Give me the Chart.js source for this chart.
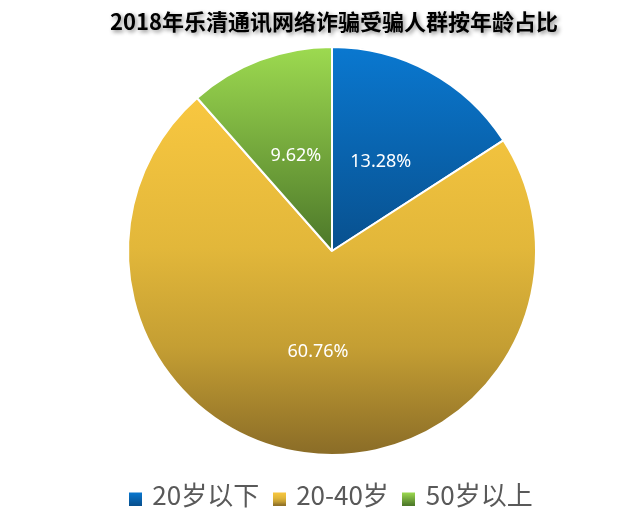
<!DOCTYPE html>
<html><head><meta charset="utf-8">
<script src="https://cdn.jsdelivr.net/npm/chart.js@4"></script>
<style>html,body{margin:0;padding:0;background:#fff}#wrap{width:625px;height:521px;position:relative}</style>
</head><body><div id="wrap"><canvas id="c"></canvas></div>
<script>
const titleText = '2018年乐清通讯网络诈骗受骗人群按年龄占比';
const categories = ['20岁以下', '20-40岁', '50岁以上'];
const values = [13.28, 60.76, 9.62];

// styles (not data)
const PALETTE = [
  [[0, '#0A78D0'], [1, '#08508E']],
  [[0, '#F8C740'], [0.42, '#E2B73A'], [0.7, '#C49E33'], [1, '#8A6C27']],
  [[0, '#9DDA50'], [1, '#4C7729']]
];
const FALLBACK = ['#0062B0', '#D9AE38', '#78B042'];
const PIE_R = 204;

function sliceExtent(i, cy, r) {
  const total = values.reduce((a, b) => a + b, 0);
  let a0 = -Math.PI / 2;
  for (let k = 0; k < i; k++) a0 += values[k] / total * Math.PI * 2;
  const a1 = a0 + values[i] / total * Math.PI * 2;
  let ys = [cy, cy + r * Math.sin(a0), cy + r * Math.sin(a1)];
  const within = (a) => { for (let t = a; t < a1 + 7; t += Math.PI * 2) { if (t >= a0 && t <= a1) return true; } return false; };
  const norm = (a) => { while (a > a0) a -= Math.PI * 2; return a; };
  if (within(norm(-Math.PI / 2))) ys.push(cy - r);
  if (within(norm(Math.PI / 2))) ys.push(cy + r);
  return [Math.min(...ys), Math.max(...ys)];
}

function sliceFill(context) {
  const chart = context.chart;
  const area = chart.chartArea;
  const i = context.dataIndex;
  if (!area) return FALLBACK[i];
  const cy = (area.top + area.bottom) / 2;
  const [y0, y1] = sliceExtent(i, cy, PIE_R);
  const g = chart.ctx.createLinearGradient(0, y0, 0, y1);
  PALETTE[i].forEach(([o, c]) => g.addColorStop(o, c));
  return g;
}

function legendSwatch(i) {
  const cv = document.createElement('canvas');
  cv.width = 13; cv.height = 21;
  const x = cv.getContext('2d');
  const g = x.createLinearGradient(0, 8, 0, 21);
  PALETTE[i].forEach(([o, c]) => g.addColorStop(o, c));
  x.fillStyle = g;
  x.fillRect(0, 8, 13, 13);
  return cv;
}

const titlePlugin = {
  id: 'shadowTitle',
  afterDraw(chart) {
    const ctx = chart.ctx;
    ctx.save();
    ctx.font = 'bold 22px "Noto Sans CJK SC", sans-serif';
    ctx.textAlign = 'center';
    ctx.textBaseline = 'middle';
    ctx.shadowColor = 'rgba(0,0,0,0.45)';
    ctx.shadowBlur = 4;
    ctx.shadowOffsetX = 2;
    ctx.shadowOffsetY = 2;
    ctx.fillStyle = '#000';
    ctx.fillText(titleText, 334, 22);
    ctx.restore();
  }
};

const labelPlugin = {
  id: 'sliceLabels',
  afterDatasetsDraw(chart) {
    const ctx = chart.ctx;
    const meta = chart.getDatasetMeta(0);
    ctx.save();
    ctx.font = '18px "Noto Sans", sans-serif';
    ctx.fillStyle = '#fff';
    ctx.textAlign = 'center';
    ctx.textBaseline = 'middle';
    meta.data.forEach((arc, i) => {
      const p = arc.getCenterPoint();
      ctx.fillText(values[i].toFixed(2) + '%', p.x, p.y);
    });
    ctx.restore();
  }
};

new Chart(document.getElementById('c'), {
  type: 'pie',
  data: {
    labels: categories,
    datasets: [{
      data: values,
      backgroundColor: sliceFill,
      borderColor: '#fff',
      borderWidth: 2
    }]
  },
  options: {
    responsive: true,
    maintainAspectRatio: false,
    animation: false,
    radius: PIE_R,
    layout: { padding: { top: 36, left: 39, right: 0, bottom: 3 } },
    plugins: {
      title: { display: false },
      tooltip: { enabled: false },
      legend: {
        position: 'bottom',
        labels: {
          usePointStyle: true,
          pointStyleWidth: 8,
          padding: 16,
          color: '#595959',
          font: { size: 26, family: '"Noto Sans CJK SC", sans-serif' },
          generateLabels: () => categories.map((t, i) => ({
            text: t, pointStyle: legendSwatch(i), fillStyle: FALLBACK[i],
            strokeStyle: 'transparent', lineWidth: 0, fontColor: '#595959', index: i, hidden: false
          }))
        }
      }
    }
  },
  plugins: [titlePlugin, labelPlugin]
});
</script></body></html>
